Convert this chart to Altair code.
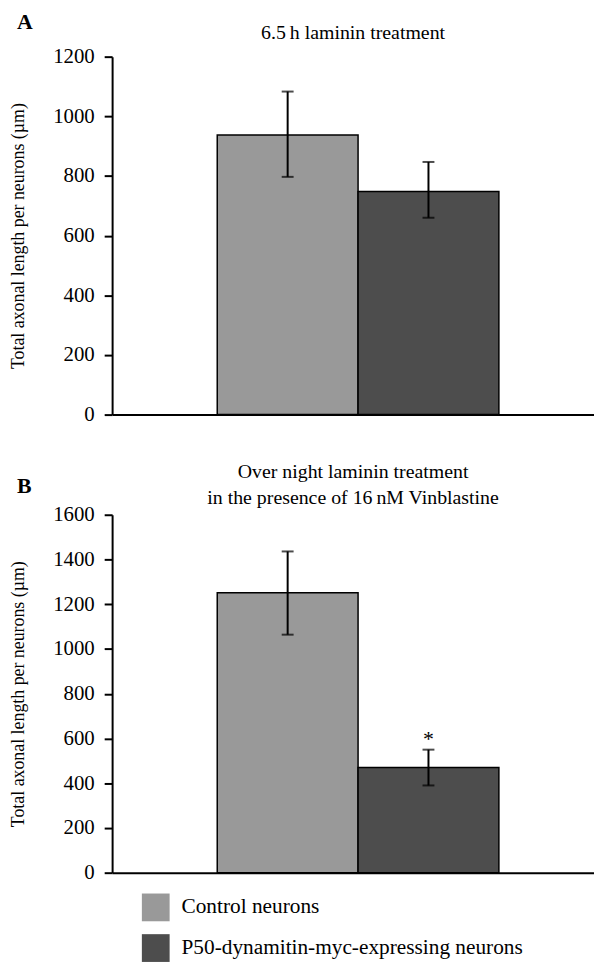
import altair as alt
import pandas as pd

groups = ["Control neurons", "P50-dynamitin-myc-expressing neurons"]
colors = ["#999999", "#4d4d4d"]

a_mean = [937, 748]
a_low = [797, 660]
a_high = [1083, 847]

b_mean = [1251, 470]
b_low = [1064, 390]
b_high = [1436, 550]
b_sig = ["", "*"]
b_sig_y = [None, 598]

FONT = "Liberation Serif"
W = 486
H = 361

def panel(mean, low, high, ymax, title, letter, letter_y, title_offset,
          sig=None, sig_y=None, legend_y=0):
    df = pd.DataFrame({"group": groups, "mean": mean, "low": low, "high": high})
    xenc = alt.X("group:N", sort=groups,
                 scale=alt.Scale(paddingInner=0, paddingOuter=0.711, align=0.525),
                 axis=alt.Axis(labels=False, ticks=False, title=None,
                               domainColor="black", domainWidth=2))
    yscale = alt.Scale(domain=[0, ymax], nice=False)
    yaxis = alt.Axis(values=list(range(0, ymax + 1, 200)), format="d", grid=False,
                     domainColor="black", domainWidth=2, tickColor="black",
                     tickWidth=2, tickSize=8, labelFont=FONT, labelFontSize=21,
                     labelColor="black", labelPadding=10,
                     title="Total axonal length per neurons (µm)",
                     titleFont=FONT, titleFontSize=18, titleFontWeight="normal",
                     titleColor="black", titlePadding=25)
    base = alt.Chart(df)
    bars = base.mark_bar(stroke="black", strokeWidth=1.5).encode(
        x=xenc,
        y=alt.Y("mean:Q", scale=yscale, axis=yaxis),
        color=alt.Color("group:N", sort=groups,
                        scale=alt.Scale(domain=groups, range=colors),
                        legend=alt.Legend(title=None, orient="none",
                                          legendX=30, legendY=legend_y,
                                          symbolType="square", symbolSize=784,
                                          symbolStrokeWidth=0, labelFont=FONT,
                                          labelFontSize=21.5, labelColor="black",
                                          rowPadding=13, labelOffset=12,
                                          labelLimit=450)),
    )
    rule = base.mark_rule(color="black", strokeWidth=2).encode(
        x=alt.X("group:N", sort=groups), y="low:Q", y2="high:Q")
    cap_lo = base.mark_tick(color="black", thickness=2, size=12).encode(
        x=alt.X("group:N", sort=groups), y="low:Q")
    cap_hi = base.mark_tick(color="black", thickness=2, size=12).encode(
        x=alt.X("group:N", sort=groups), y="high:Q")
    lab = alt.Chart(pd.DataFrame({"t": [letter]})).mark_text(
        font=FONT, fontSize=22, fontWeight="bold", align="left",
        baseline="alphabetic", color="black").encode(
        text="t:N", x=alt.value(-96), y=alt.value(letter_y))
    layers = [bars, rule, cap_lo, cap_hi, lab]
    if sig is not None:
        sdf = pd.DataFrame({"group": groups, "sig": sig, "sy": sig_y}).dropna()
        star = alt.Chart(sdf).mark_text(font=FONT, fontSize=22, baseline="middle",
                                        color="black").encode(
            x=alt.X("group:N", sort=groups), y="sy:Q", text="sig:N")
        layers.append(star)
    return alt.layer(*layers).properties(
        width=W, height=H,
        title=alt.TitleParams(text=title, font=FONT, fontSize=20,
                              fontWeight="normal", color="black",
                              offset=title_offset, lineHeight=26),
    )

pa = panel(a_mean, a_low, a_high, 1200, "6.5\u2009h laminin treatment", "A", -28, -32,
           legend_y=844)
pb = panel(b_mean, b_low, b_high, 1600,
           ["Over night laminin treatment", "in the presence of 16\u2009nM Vinblastine"],
           "B", -22, -33, b_sig, b_sig_y, legend_y=844)

chart = alt.vconcat(pa, pb, spacing=38).properties(
    padding={"left": 2, "top": -1, "right": 0, "bottom": -3}
).configure_view(stroke=None)

chart.save("out.html", embed_options={"renderer": "svg", "actions": False})
